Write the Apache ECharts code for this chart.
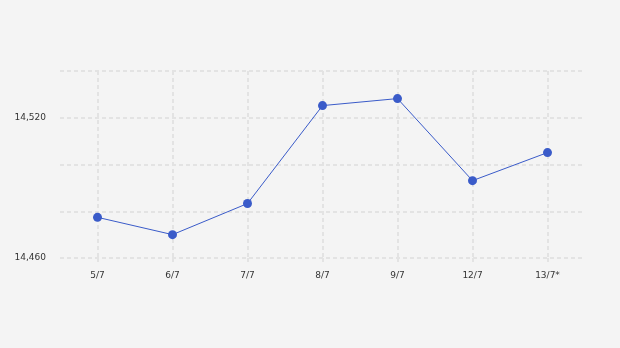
<!DOCTYPE html>
<html>
<head>
<meta charset="utf-8">
<script src="https://cdn.jsdelivr.net/npm/echarts@6/dist/echarts.min.js"></script>
<style>
html,body{margin:0;padding:0;background:#f4f4f4;}
#chart{width:620px;height:348px;}
</style>
</head>
<body>
<div id="chart"></div>
<script>
const categories = ['5/7', '6/7', '7/7', '8/7', '9/7', '12/7', '13/7*'];
const values = [14477.4, 14470, 14483.3, 14525.2, 14528.2, 14493.1, 14505.1];
const yLabelValues = [14460, 14520];

const gridColor = '#e3e3e3';
const dashed = { color: gridColor, width: 2, type: [4, 3] };

const chart = echarts.init(document.getElementById('chart'));
chart.setOption({
  backgroundColor: '#f4f4f4',
  animation: false,
  grid: { left: 60, right: 35, top: 71, bottom: 90 },
  xAxis: {
    type: 'category',
    data: categories,
    boundaryGap: true,
    axisLine: { show: false },
    axisTick: { show: true, alignWithLabel: true, length: 6, lineStyle: dashed },
    splitLine: { show: true, alignWithLabel: true, lineStyle: dashed },
    axisLabel: { color: '#333', fontFamily: 'DejaVu Sans', fontSize: 9, margin: 13 }
  },
  yAxis: {
    type: 'value',
    min: 14460,
    max: 14540,
    interval: 20,
    axisLine: { show: false },
    axisTick: { show: false },
    splitLine: { show: true, lineStyle: dashed },
    axisLabel: {
      color: '#333', fontFamily: 'DejaVu Sans', fontSize: 9, margin: 14,
      formatter: function (v) {
        return yLabelValues.indexOf(v) >= 0 ? v.toLocaleString('en-US') : '';
      }
    }
  },
  series: [{
    type: 'line',
    data: values,
    symbol: 'circle',
    symbolSize: 9,
    lineStyle: { color: '#3a5bc9', width: 1 },
    itemStyle: { color: '#3a5bc9' }
  }]
});
</script>
</body>
</html>
